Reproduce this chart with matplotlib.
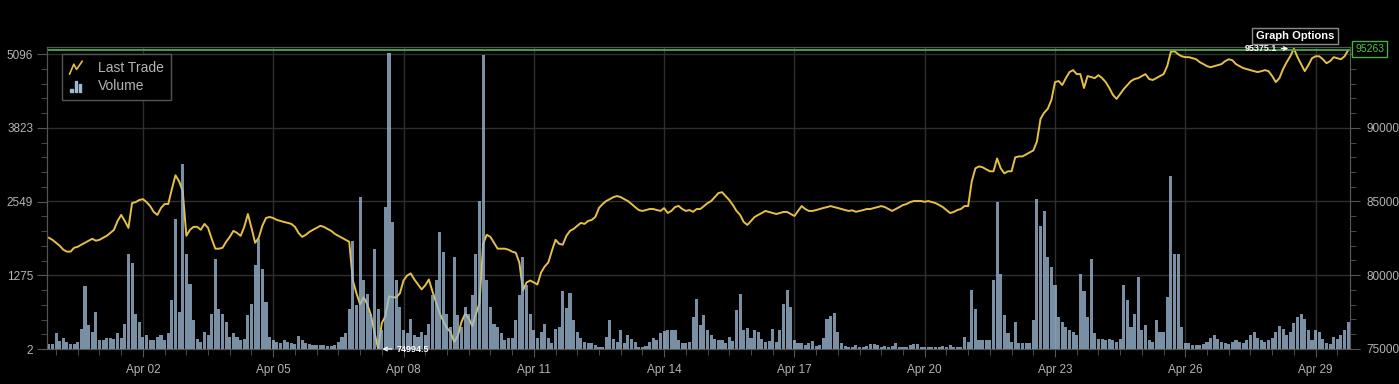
import matplotlib.pyplot as plt
import matplotlib.dates as mdates
from matplotlib.ticker import AutoMinorLocator, FixedLocator
from matplotlib.lines import Line2D
from matplotlib.patches import Patch, Rectangle
from matplotlib.legend_handler import HandlerBase
import pandas as pd

plt.rcParams['font.family'] = ['Liberation Sans', 'DejaVu Sans']

# 2 hour candles, Mar 30 19:00 -> Apr 29 19:00
start = pd.Timestamp('2025-03-30 19:00')
n_bars = 360

# last trade price, one value per 2h (12 per day)
price = [
    82540, 82400, 82200, 82000, 81730, 81600, 81600, 81860, 81930, 82070, 82200, 82340,
    82470, 82340, 82400, 82540, 82670, 82870, 83080, 83680, 84090, 83680, 83210, 84890,
    84960, 85100, 85160, 84960, 84690, 84290, 84090, 84560, 84830, 84830, 85840, 86780,
    86370, 85700, 82670, 83080, 83280, 83280, 83080, 83480, 83210, 82470, 81800, 81800,
    81860, 82270, 82600, 83010, 82870, 82670, 83280, 84150, 83210, 82200, 82540, 83350,
    83880, 83950, 83880, 83750, 83680, 83610, 83550, 83480, 83280, 82870, 82600, 82740,
    82940, 83080, 83210, 83350, 83280, 83140, 83010, 82810, 82670, 82540, 82400, 82270,
    79640, 78770, 78030, 78500, 78030, 77290, 76080, 74994.5, 76750, 77220, 78570, 78500,
    78500, 78770, 79640, 79980, 80120, 79710, 79370, 79040, 79310, 79710, 78900, 78160,
    77420, 76880, 76410, 76140, 75470, 75870, 76820, 77360, 77090, 76550, 77360, 78100,
    82130, 82740, 82600, 82200, 81800, 81800, 81800, 81730, 81600, 81530, 80860, 78970,
    79510, 79640, 79510, 79370, 80180, 80590, 80860, 81660, 82400, 82130, 82070, 82670,
    83010, 83140, 83350, 83550, 83480, 83680, 83750, 83950, 84560, 84830, 85030, 85160,
    85300, 85370, 85300, 85160, 85030, 84830, 84620, 84420, 84360, 84420, 84490, 84490,
    84420, 84360, 84550, 84220, 84360, 84620, 84700, 84490, 84360, 84420, 84300, 84490,
    84490, 84690, 84890, 85030, 85300, 85570, 85630, 85370, 85100, 84760, 84360, 84090,
    83610, 83410, 83680, 83950, 84090, 84220, 84360, 84290, 84220, 84150, 84220, 84290,
    84290, 84150, 84020, 84360, 84690, 84490, 84360, 84360, 84420, 84490, 84560, 84620,
    84690, 84620, 84560, 84490, 84420, 84360, 84400, 84300, 84360, 84420, 84490, 84490,
    84560, 84620, 84690, 84620, 84490, 84360, 84490, 84620, 84760, 84830, 84960, 85030,
    85030, 85030, 84980, 85030, 84960, 84890, 84760, 84620, 84420, 84220, 84290, 84420,
    84490, 84690, 84690, 86370, 87250, 87380, 87320, 87180, 87050, 87050, 87920, 87250,
    86910, 87050, 87050, 87990, 88060, 88060, 88190, 88330, 88460, 89070, 90610, 91020,
    91290, 91890, 93100, 93170, 92900, 93370, 93780, 93910, 93640, 93640, 92700, 93510,
    93440, 93370, 93570, 93370, 93100, 92700, 92230, 91960, 92300, 92630, 92900, 93170,
    93310, 93370, 93510, 93640, 93310, 93240, 93370, 93510, 93640, 94180, 95150, 95200,
    94990, 94850, 94790, 94790, 94720, 94650, 94450, 94320, 94180, 94110, 94180, 94250,
    94320, 94520, 94650, 94580, 94320, 94180, 94050, 93980, 93910, 93840, 93780, 93840,
    93910, 93840, 93510, 93100, 93370, 93980, 94450, 94850, 95375.1, 94790, 94320, 93840,
    94250, 94720, 94850, 94850, 94650, 94380, 94520, 94790, 94720, 94650, 94850, 95263,
]

# traded volume per 2h bar
volume = [
    90, 90, 280, 143, 184, 126, 90, 90, 126, 355, 1083, 413,
    300, 642, 160, 155, 200, 200, 180, 275, 200, 430, 1645, 1485,
    600, 470, 212, 241, 155, 155, 212, 241, 155, 270, 843, 2248,
    640, 3193, 1645, 1130, 500, 183, 126, 298, 241, 614, 1560, 700,
    614, 470, 212, 270, 212, 155, 183, 585, 785, 1445, 1904, 1388,
    814, 212, 155, 126, 98, 155, 126, 98, 86, 224, 155, 98,
    86, 69, 69, 69, 69, 52, 60, 69, 126, 212, 270, 700,
    1875, 757, 2620, 1200, 957, 600, 1732, 700, 327, 2448, 5110, 2200,
    1200, 728, 327, 270, 528, 241, 212, 298, 241, 441, 929, 1200,
    2018, 1675, 613, 384, 1589, 585, 384, 728, 613, 929, 1646, 2563,
    5085, 1187, 728, 441, 384, 270, 155, 184, 184, 500, 929, 1588,
    1100, 614, 327, 184, 298, 442, 190, 110, 355, 384, 1003, 716,
    969, 500, 298, 200, 120, 98, 98, 69, 40, 45, 212, 510,
    167, 126, 327, 110, 241, 170, 120, 40, 40, 60, 126, 184,
    160, 270, 310, 327, 338, 338, 150, 110, 98, 120, 556, 872,
    413, 585, 327, 241, 167, 155, 155, 110, 201, 140, 671, 958,
    327, 367, 200, 327, 298, 180, 126, 140, 350, 126, 327, 780,
    1026, 728, 155, 98, 110, 69, 98, 140, 60, 69, 184, 527,
    567, 625, 298, 98, 60, 40, 35, 69, 30, 35, 50, 80,
    80, 69, 45, 50, 45, 60, 100, 45, 35, 45, 69, 85,
    90, 45, 35, 35, 35, 45, 30, 55, 35, 69, 45, 45,
    30, 212, 126, 1015, 700, 155, 155, 155, 155, 1187, 2534, 1300,
    585, 270, 126, 470, 98, 98, 98, 98, 499, 2591, 2133, 2391,
    1589, 1416, 1101, 556, 470, 384, 327, 298, 241, 1302, 1000, 556,
    1560, 270, 183, 183, 155, 183, 155, 126, 183, 1101, 843, 384,
    613, 1244, 327, 413, 155, 126, 499, 298, 298, 900, 2993, 1646,
    1646, 384, 98, 98, 69, 69, 69, 90, 120, 200, 250, 180,
    130, 100, 90, 120, 150, 130, 100, 150, 250, 300, 200, 150,
    120, 150, 200, 300, 400, 350, 250, 300, 450, 550, 613, 527,
    330, 155, 327, 298, 183, 98, 86, 212, 183, 241, 327, 470,
]

vol_ticks = [2, 1275, 2549, 3823, 5096]
price_ticks = [75000, 80000, 85000, 90000, 95000]
last_price = 95263
high_price = 95375.1
low_price = 74994.5

times = pd.date_range(start + pd.Timedelta(hours=1), periods=n_bars, freq='2h')
tnum = mdates.date2num(times)

line_col = '#e6bf45'
bar_col = '#9cb9d3'
txt_col = '#b4b4b4'
spine_col = '#555555'


# little legend icons like the site uses
class ZigZag(HandlerBase):
    def create_artists(self, legend, orig, xd, yd, w, h, fs, trans):
        fx = [0.05, 0.35, 0.55, 0.95]
        fy = [-0.1, 0.75, 0.3, 1.0]
        ln = Line2D([-xd + w * a for a in fx], [-yd + h * b for b in fy],
                    color=line_col, lw=1.2, transform=trans)
        return [ln]


class MiniBars(HandlerBase):
    def create_artists(self, legend, orig, xd, yd, w, h, fs, trans):
        out = []
        for fx, fh in [(0.1, 0.3), (0.42, 1.0), (0.74, 0.7)]:
            out.append(Rectangle((-xd + w * fx, -yd - 0.1 * h), w * 0.16, h * fh,
                                 color=bar_col, transform=trans))
        return out


fig = plt.figure(figsize=(13.99, 3.84), dpi=100, facecolor='black')
ax = fig.add_axes([47/1399, 35/384, 1303/1399, 302/384])
ax2 = ax.twinx()
# bars on top of the price line
ax.set_zorder(ax2.get_zorder() + 1)
ax.patch.set_visible(False)
ax2.set_facecolor('black')

ax2.plot(tnum, price, color=line_col, lw=1.4)
ax2.axhline(last_price, color='#46b046', lw=1.3)
ax.bar(tnum, volume, width=2/24*0.85, color=bar_col, alpha=0.78, linewidth=0)

ax.set_xlim(mdates.date2num(start), mdates.date2num(start + pd.Timedelta(hours=2*n_bars)))
ax.set_ylim(2, 5218)
ax2.set_ylim(low_price, 95480)

ax.yaxis.set_major_locator(FixedLocator(vol_ticks))
ax.yaxis.set_minor_locator(AutoMinorLocator(5))
ax2.yaxis.set_major_locator(FixedLocator(price_ticks))
ax2.yaxis.set_minor_locator(AutoMinorLocator(5))
# top label sits under the last price tag
ax2.set_yticklabels([str(p) for p in price_ticks[:-1]] + [''])

ax.xaxis.set_major_locator(mdates.DayLocator(bymonthday=range(2, 30, 3)))
ax.xaxis.set_major_formatter(mdates.DateFormatter('%b %d'))
ax.xaxis.set_minor_locator(mdates.HourLocator(byhour=[0, 12]))

for a in (ax, ax2):
    a.tick_params(which='both', colors=spine_col, labelcolor=txt_col, labelsize=8.5)
    a.tick_params(which='major', length=7, pad=3)
    a.tick_params(which='minor', length=4)
    for s in a.spines.values():
        s.set_color(spine_col)
ax.tick_params(axis='x', length=6, pad=5)
ax2.tick_params(axis='y', pad=5)

# grid lives on the background axes
ax2.grid(True, axis='y', color='#2e2e2e', lw=1)
for t in ax.get_xticks():
    ax2.axvline(t, color='#2e2e2e', lw=1, zorder=0)

ax.annotate(f'{high_price}', xy=(tnum[344], high_price), xycoords=ax2.transData,
            xytext=(-12, 0), textcoords='offset points', ha='right', va='center',
            color='white', fontsize=6.5, fontweight='bold',
            arrowprops=dict(arrowstyle='->', color='white', lw=0.9, shrinkA=1, shrinkB=4))
ax.annotate(f'{low_price}', xy=(tnum[91], low_price), xycoords=ax2.transData,
            xytext=(13, 0), textcoords='offset points', ha='left', va='center',
            color='white', fontsize=6.5, fontweight='bold',
            arrowprops=dict(arrowstyle='->', color='white', lw=0.9, shrinkA=1, shrinkB=3))

h_line = Line2D([], [], color=line_col)
h_bar = Patch(color=bar_col)
leg = ax.legend(handles=[h_line, h_bar], labels=['Last Trade', 'Volume'],
                handler_map={h_line: ZigZag(), h_bar: MiniBars()},
                loc='upper left', bbox_to_anchor=(0.0115, 0.977), fontsize=10,
                labelcolor=txt_col, handlelength=1.0, handleheight=0.9,
                handletextpad=1.1, borderpad=0.5, labelspacing=0.3,
                borderaxespad=0, fancybox=False, framealpha=1, facecolor='black',
                edgecolor=spine_col)
leg.get_frame().set_linewidth(1)

fig.text(1355/1399, 1 - 49/384, f'{last_price}', ha='left', va='center', color='#4cc44c',
         fontsize=7.5, zorder=10,
         bbox=dict(boxstyle='square,pad=0.25', facecolor='black', edgecolor='#46b046'))
fig.text(1295/1399, 1 - 36/384, 'Graph Options', ha='center', va='center', color='white',
         fontsize=8, fontweight='bold', zorder=10,
         bbox=dict(boxstyle='square,pad=0.3', facecolor='black', edgecolor='#8a8a8a'))

fig.savefig('out.png', dpi=100, facecolor='black')
